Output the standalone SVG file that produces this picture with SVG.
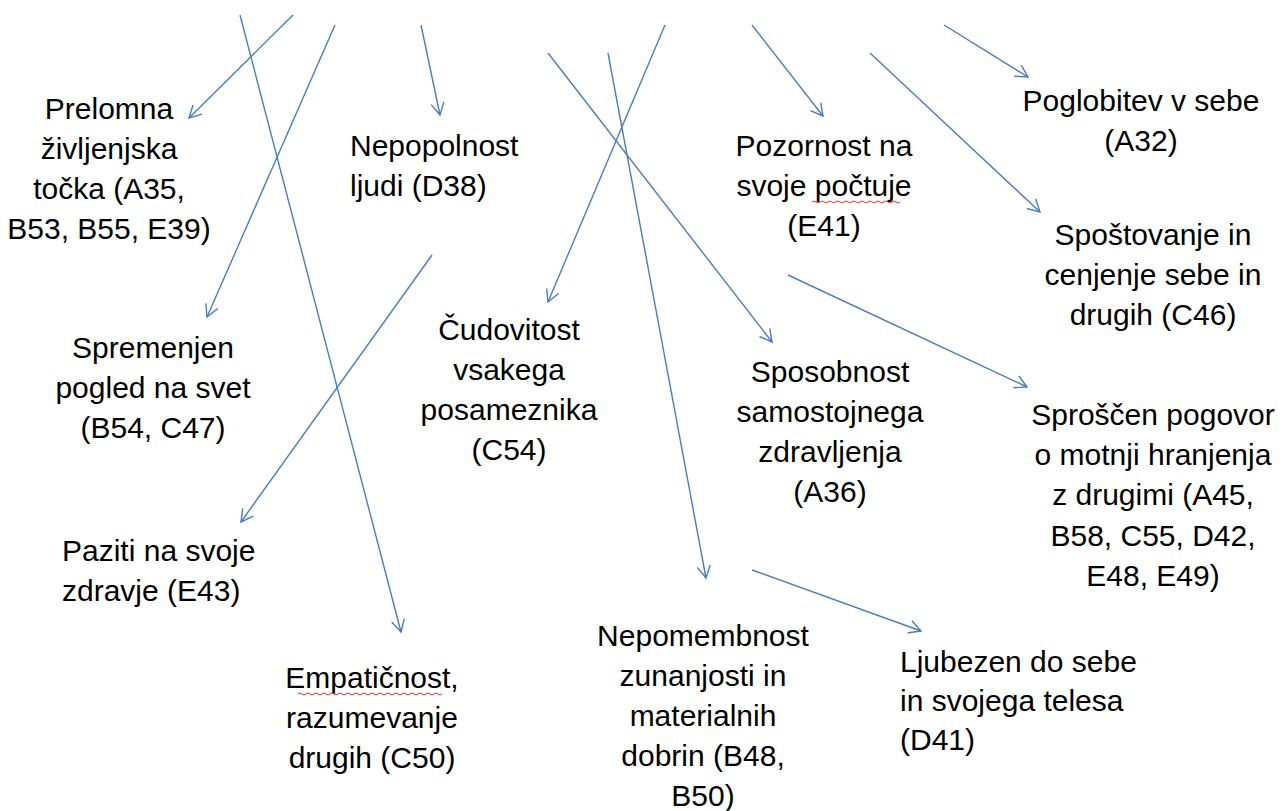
<svg xmlns="http://www.w3.org/2000/svg" width="1282" height="811" viewBox="0 0 1282 811">
<defs>
<marker id="arr" markerUnits="userSpaceOnUse" markerWidth="16" markerHeight="16" viewBox="0 0 16 16" refX="13" refY="8" orient="auto">
<path d="M1,1.5 L13,8 L1,14.5" fill="none" stroke="#4a7ebb" stroke-width="1.4"/>
</marker>
</defs>
<style>
.t{font-family:"Liberation Sans",Arial,sans-serif;font-size:30px;fill:#000}
.c{text-anchor:middle}
.l{text-anchor:start}
.e{stroke:#4a7ebb;stroke-width:1.4;fill:none;marker-end:url(#arr)}
.w{stroke:#e03030;stroke-width:1;fill:none}
</style>
<rect width="1282" height="811" fill="#fff"/>
<g id="connectors">
<line class="e" x1="293" y1="15" x2="189" y2="118"/>
<line class="e" x1="240" y1="15" x2="401" y2="632"/>
<line class="e" x1="335" y1="25" x2="207" y2="317"/>
<line class="e" x1="421" y1="25" x2="440" y2="115"/>
<line class="e" x1="432" y1="255" x2="241" y2="522"/>
<line class="e" x1="665" y1="25" x2="548" y2="302"/>
<line class="e" x1="548" y1="53" x2="772" y2="342"/>
<line class="e" x1="608" y1="53" x2="706" y2="578"/>
<line class="e" x1="752" y1="25" x2="823" y2="116"/>
<line class="e" x1="870" y1="53" x2="1040" y2="212"/>
<line class="e" x1="944" y1="25" x2="1028" y2="77"/>
<line class="e" x1="788" y1="275" x2="1027" y2="387"/>
<line class="e" x1="752" y1="570" x2="921" y2="631"/>
</g>
<g id="n-prelomna">
<text class="t c" x="109" y="119">Prelomna</text>
<text class="t c" x="109" y="159">življenjska</text>
<text class="t c" x="109" y="199">točka (A35,</text>
<text class="t c" x="109" y="239">B53, B55, E39)</text>
</g>
<g id="n-nepopolnost">
<text class="t l" x="350" y="156">Nepopolnost</text>
<text class="t l" x="350" y="196">ljudi (D38)</text>
</g>
<g id="n-pozornost">
<text class="t c" x="824" y="156">Pozornost na</text>
<text class="t c" x="824" y="196">svoje počtuje</text>
<text class="t c" x="824" y="236">(E41)</text>
<path class="w" d="M812,202 q2,-2 4,0 t4,0 t4,0 t4,0 t4,0 t4,0 t4,0 t4,0 t4,0 t4,0 t4,0 t4,0 t4,0 t4,0 t4,0 t4,0 t4,0 t4,0 t4,0 t4,0 t4,0 t4,0"/>
</g>
<g id="n-poglobitev">
<text class="t c" x="1141" y="111">Poglobitev v sebe</text>
<text class="t c" x="1141" y="151">(A32)</text>
</g>
<g id="n-spostovanje">
<text class="t c" x="1153" y="245">Spoštovanje in</text>
<text class="t c" x="1153" y="285">cenjenje sebe in</text>
<text class="t c" x="1153" y="325">drugih (C46)</text>
</g>
<g id="n-spremenjen">
<text class="t c" x="153" y="358">Spremenjen</text>
<text class="t c" x="153" y="398">pogled na svet</text>
<text class="t c" x="153" y="438">(B54, C47)</text>
</g>
<g id="n-cudovitost">
<text class="t c" x="509" y="340">Čudovitost</text>
<text class="t c" x="509" y="380">vsakega</text>
<text class="t c" x="509" y="420">posameznika</text>
<text class="t c" x="509" y="460">(C54)</text>
</g>
<g id="n-sposobnost">
<text class="t c" x="830" y="382">Sposobnost</text>
<text class="t c" x="830" y="422">samostojnega</text>
<text class="t c" x="830" y="462">zdravljenja</text>
<text class="t c" x="830" y="502">(A36)</text>
</g>
<g id="n-sproscen">
<text class="t c" x="1153" y="425">Sproščen pogovor</text>
<text class="t c" x="1153" y="465">o motnji hranjenja</text>
<text class="t c" x="1153" y="505">z drugimi (A45,</text>
<text class="t c" x="1153" y="546">B58, C55, D42,</text>
<text class="t c" x="1153" y="586">E48, E49)</text>
</g>
<g id="n-paziti">
<text class="t l" x="62" y="561">Paziti na svoje</text>
<text class="t l" x="62" y="601">zdravje (E43)</text>
</g>
<g id="n-empaticnost">
<text class="t c" x="372" y="688">Empatičnost,</text>
<text class="t c" x="372" y="728">razumevanje</text>
<text class="t c" x="372" y="768">drugih (C50)</text>
<path class="w" d="M298,694 q2,-2 4,0 t4,0 t4,0 t4,0 t4,0 t4,0 t4,0 t4,0 t4,0 t4,0 t4,0 t4,0 t4,0 t4,0 t4,0 t4,0 t4,0 t4,0 t4,0 t4,0 t4,0 t4,0 t4,0 t4,0 t4,0 t4,0 t4,0 t4,0 t4,0 t4,0 t4,0 t4,0 t4,0 t4,0 t4,0 t4,0"/>
</g>
<g id="n-nepomembnost">
<text class="t c" x="703" y="646">Nepomembnost</text>
<text class="t c" x="703" y="686">zunanjosti in</text>
<text class="t c" x="703" y="726">materialnih</text>
<text class="t c" x="703" y="766">dobrin (B48,</text>
<text class="t c" x="703" y="806">B50)</text>
</g>
<g id="n-ljubezen">
<text class="t l" x="900" y="672">Ljubezen do sebe</text>
<text class="t l" x="900" y="711">in svojega telesa</text>
<text class="t l" x="900" y="750">(D41)</text>
</g>
</svg>
